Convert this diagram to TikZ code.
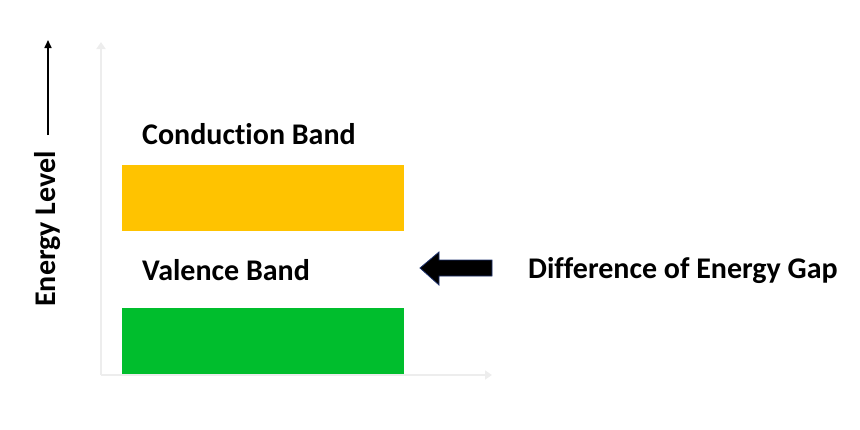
\documentclass[tikz,border=0pt]{standalone}
\usepackage{fontspec}
\setmainfont[Ligatures=NoCommon]{Carlito}
\usetikzlibrary{arrows.meta}
\begin{document}
\begin{tikzpicture}[x=1pt,y=-1pt,
  lbl/.style={font=\bfseries\fontsize{30}{34}\selectfont,inner sep=0pt},
  axis/.style={draw=black!7,line width=2.5pt,-{Triangle[length=7pt,width=9pt]}},
  band/.style={inner sep=0pt,minimum width=282pt,minimum height=66pt}]
\useasboundingbox (0,0) rectangle (860,429);
\coordinate (o) at (101,375);
\coordinate (ytop) at (101,42);
\coordinate (xend) at (492,375);
\draw[axis] (o) -- (ytop);
\draw[axis] (o) -- (xend);
\node[band,fill={rgb,255:red,255;green,195;blue,0},anchor=north west] (cb) at (122,165) {};
\node[band,fill={rgb,255:red,0;green,190;blue,45},anchor=north west] (vb) at (122,308) {};
\node[lbl,anchor=west] (cbt) at (142,134) {Conduction Band};
\node[lbl,anchor=west] (vbt) at (142,270) {Valence Band};
\node[lbl,anchor=west] (gap) at (528,271) {Difference of Energy Gap};
\node[lbl,rotate=90] (el) at (48,229) {Energy Level};
\coordinate (ea) at (48,135);
\coordinate (eb) at (48,40);
\draw[line width=1.6pt,-{Triangle[length=8pt,width=7pt]}] (ea) -- (eb);
\draw[fill=black,draw={rgb,255:red,30;green,50;blue,110},line width=0.8pt]
  (492,260) -- (439,260) -- (439,252) -- (420,268) -- (439,285) -- (439,276) -- (492,276) -- cycle;
\end{tikzpicture}
\end{document}
